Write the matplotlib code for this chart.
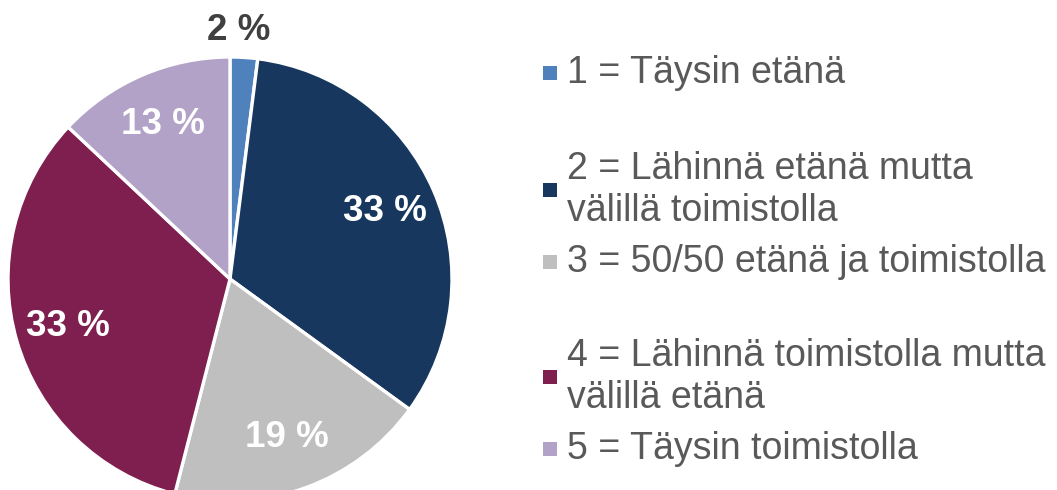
import numpy as np
import matplotlib.pyplot as plt
from matplotlib.patches import Rectangle

plt.rcParams['font.family'] = ['Liberation Sans', 'DejaVu Sans']

categories = ['1 = Täysin etänä',
              '2 = Lähinnä etänä mutta\nvälillä toimistolla',
              '3 = 50/50 etänä ja toimistolla',
              '4 = Lähinnä toimistolla mutta\nvälillä etänä',
              '5 = Täysin toimistolla']
shares = [2, 33, 19, 33, 13]
colors = ['#4F81BD', '#17375E', '#BFBFBF', '#7E1F50', '#B3A2C7']

W, H = 1057, 490
fig = plt.figure(figsize=(W / 100, H / 100), dpi=100)

# pie axes: centre (230, 279) px, radius 222 px
cx, cy, r = 230, 279, 222
ax = fig.add_axes([(cx - r) / W, (H - cy - r) / H, 2 * r / W, 2 * r / H])
wedges, _ = ax.pie(shares, colors=colors, startangle=90, counterclock=False,
                   radius=1, wedgeprops=dict(edgecolor='white', linewidth=2.4))
ax.set_xlim(-1, 1)
ax.set_ylim(-1, 1)
ax.set_aspect('equal')
ax.axis('off')

# percentage labels
for w, v in zip(wedges, shares):
    mid = np.deg2rad((w.theta1 + w.theta2) / 2)
    if v < 5:
        d, col = 1.12, '#404040'
    else:
        d, col = 0.76, 'white'
    ax.text(d * np.cos(mid) - (0.03 if v < 5 else 0), d * np.sin(mid), f'{v} %',
            ha='center', va='center', fontsize=26.5, fontweight='bold', color=col,
            clip_on=False)

# legend, laid out like the original
item_y = [73, 190, 262, 377, 449]
for lab, col, y in zip(categories, colors, item_y):
    sq = 14
    fig.patches.append(Rectangle(((550 - sq / 2) / W, (H - y - sq / 2) / H), sq / W, sq / H,
                                 transform=fig.transFigure, facecolor=col, edgecolor='none'))
    fig.text(567 / W, (H - y) / H, lab, ha='left', va='center', fontsize=27,
             color='#595959', linespacing=1.2)

fig.savefig('out.png', dpi=100)
